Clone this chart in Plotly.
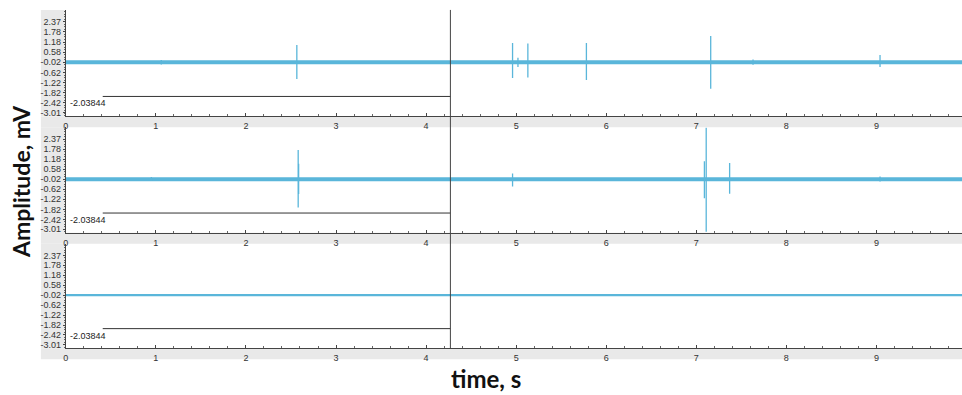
import plotly.graph_objects as go

W, H = 962, 395

# ---- data ----
ytick_vals = [2.37, 1.78, 1.18, 0.58, -0.02, -0.62, -1.22, -1.82, -2.42, -3.01]
ytick_text = ["2.37", "1.78", "1.18", "0.58", "-0.02", "-0.62", "-1.22", "-1.82", "-2.42", "-3.01"]
xtick_vals = [0, 1, 2, 3, 4, 5, 6, 7, 8, 9]
baseline_level = -0.02
t_start, t_end = 0.0, 9.95
cursor_t = 4.27
cursor_level = -2.03844
cursor_label = "-2.03844"
level_line_start = 0.41

# spikes per channel: time (s), max (mV), min (mV)
ch1_spike_t = [1.06, 2.565, 4.96, 5.02, 5.13, 5.78, 7.16, 7.63, 9.04]
ch1_spike_max = [0.12, 1.01, 1.13, 0.25, 1.10, 1.13, 1.54, 0.15, 0.42]
ch1_spike_min = [-0.15, -1.00, -0.94, -0.30, -0.92, -1.06, -1.59, -0.17, -0.29]

ch2_spike_t = [0.95, 2.58, 2.585, 4.96, 7.09, 7.11, 7.37, 9.04]
ch2_spike_max = [0.12, 1.72, 0.9, 0.32, 1.05, 3.05, 0.95, 0.15]
ch2_spike_min = [-0.12, -1.71, -0.9, -0.45, -1.15, -3.15, -0.88, -0.15]

ch3_spike_t = []
ch3_spike_max = []
ch3_spike_min = []

channels = [
    (ch1_spike_t, ch1_spike_max, ch1_spike_min, 4.0),
    (ch2_spike_t, ch2_spike_max, ch2_spike_min, 4.0),
    (ch3_spike_t, ch3_spike_max, ch3_spike_min, 2.4),
]

# ---- layout geometry (pixels) ----
x_left = 63
panels_px = [(10, 117, 128), (128, 234, 245), (245, 350, 361)]  # top, axis line, band bottom


def py(p):
    return 1 - p / H


tick_font = dict(family="Liberation Sans Narrow, Liberation Sans, Arial", size=9, color="#333")
trace_color = "#5ab6da"
fig = go.Figure()
shapes = []
annotations = []

for i, (st, smax, smin, bw) in enumerate(channels):
    idx = "" if i == 0 else str(i + 1)
    xa, ya = "x" + idx, "y" + idx
    # baseline (noise band)
    fig.add_trace(go.Scatter(x=[t_start, t_end], y=[baseline_level, baseline_level], mode="lines",
                             line=dict(color=trace_color, width=bw), xaxis=xa, yaxis=ya,
                             showlegend=False, hoverinfo="skip"))
    # spikes
    sx, sy = [], []
    for t, mx, mn in zip(st, smax, smin):
        sx += [t, t, None]
        sy += [mn, mx, None]
    if sx:
        fig.add_trace(go.Scatter(x=sx, y=sy, mode="lines", line=dict(color=trace_color, width=1.3),
                                 xaxis=xa, yaxis=ya, showlegend=False, hoverinfo="skip"))
    # level line
    fig.add_trace(go.Scatter(x=[level_line_start, cursor_t], y=[cursor_level, cursor_level], mode="lines",
                             line=dict(color="#333333", width=1), xaxis=xa, yaxis=ya,
                             showlegend=False, hoverinfo="skip"))
    annotations.append(dict(x=0.02, y=cursor_level, xref=xa, yref=ya, text=cursor_label,
                            showarrow=False, xanchor="left", yanchor="top", yshift=0,
                            font=dict(family="Liberation Sans Narrow, Liberation Sans, Arial", size=9,
                                      color="#222")))
    top, axis, band = panels_px[i]
    dom_y = [py(axis), py(top)]
    fig.update_layout(**{
        "xaxis" + idx: dict(domain=[x_left / W, 1], range=[t_start, t_end], anchor=ya,
                            tickvals=xtick_vals, ticks="inside", ticklen=3, tickcolor="#444",
                            minor=dict(dtick=0.2, tick0=0, ticks="inside", ticklen=2, tickcolor="#666"),
                            showline=True, linecolor="#444", linewidth=1, showgrid=False,
                            zeroline=False, ticklabelstandoff=1, tickfont=tick_font),
        "yaxis" + idx: dict(domain=dom_y, range=[-3.22, 3.08], anchor=xa,
                            tickvals=ytick_vals, ticktext=ytick_text, ticks="outside", ticklen=2,
                            tickcolor="#444",
                            minor=dict(dtick=0.15, tick0=-0.02, ticks="outside", ticklen=1, tickcolor="#666"),
                            showline=True, linecolor="#444", linewidth=1, showgrid=False,
                            zeroline=False, tickfont=tick_font),
    })
    # gray label band under the panel
    shapes.append(dict(type="rect", xref="paper", yref="paper", x0=38 / W, x1=1,
                       y0=py(band), y1=py(axis), fillcolor="#e9e9e9", line=dict(width=0), layer="below"))
    # gray column behind y tick labels
    shapes.append(dict(type="rect", xref="paper", yref="paper", x0=38 / W, x1=x_left / W,
                       y0=py(axis), y1=py(top), fillcolor="#e9e9e9", line=dict(width=0), layer="below"))

# cursor line across all panels
shapes.append(dict(type="line", xref="x", yref="paper", x0=cursor_t, x1=cursor_t,
                   y0=py(350), y1=py(10), line=dict(color="#444", width=1)))

annotations.append(dict(x=18 / W, y=py(182), xref="paper", yref="paper", text="<b>Amplitude, mV</b>",
                        textangle=-90, showarrow=False, xanchor="center", yanchor="middle",
                        font=dict(family="Lato, Open Sans, sans-serif", size=23, color="#111")))
annotations.append(dict(x=485 / W, y=py(380), xref="paper", yref="paper", text="<b>time, s</b>",
                        showarrow=False, xanchor="center", yanchor="middle",
                        font=dict(family="Lato, Open Sans, sans-serif", size=24, color="#111")))

fig.update_layout(width=W, height=H, margin=dict(l=0, r=0, t=0, b=0),
                  paper_bgcolor="white", plot_bgcolor="white",
                  shapes=shapes, annotations=annotations, showlegend=False)

fig.write_html("out.html")
